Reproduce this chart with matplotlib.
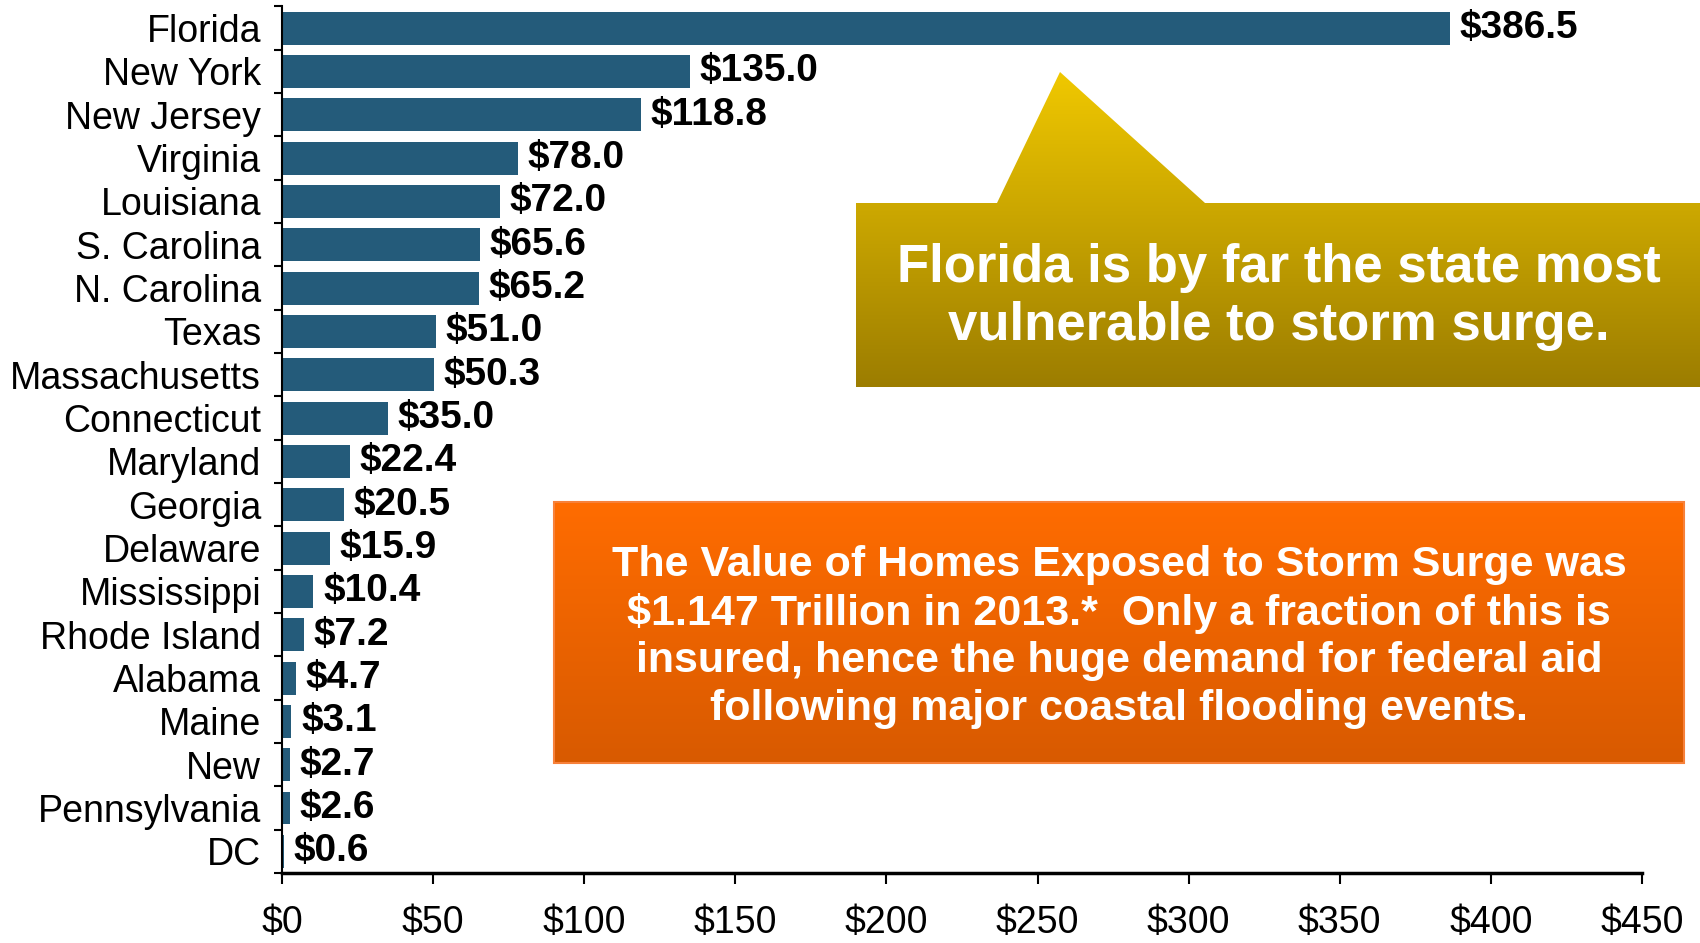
import numpy as np
import matplotlib
matplotlib.use("Agg")
import matplotlib.pyplot as plt
from matplotlib.colors import LinearSegmentedColormap
from matplotlib.patches import Polygon

plt.rcParams["font.family"] = ["Liberation Sans", "DejaVu Sans"]

# value of homes exposed to storm surge, $ billions
states = ["Florida", "New York", "New Jersey", "Virginia", "Louisiana",
          "S. Carolina", "N. Carolina", "Texas", "Massachusetts", "Connecticut",
          "Maryland", "Georgia", "Delaware", "Mississippi", "Rhode Island",
          "Alabama", "Maine", "New", "Pennsylvania", "DC"]
values = [386.5, 135.0, 118.8, 78.0, 72.0, 65.6, 65.2, 51.0, 50.3, 35.0,
          22.4, 20.5, 15.9, 10.4, 7.2, 4.7, 3.1, 2.7, 2.6, 0.6]
xticks = [0, 50, 100, 150, 200, 250, 300, 350, 400, 450]

BAR = "#245B7A"
W, H = 1700, 943

fig = plt.figure(figsize=(W / 100, H / 100), dpi=100)
ax = fig.add_axes([282 / W, 70 / H, 1360 / W, 866.5 / H])

y = np.arange(len(states))
ax.barh(y, values, height=0.76, color=BAR, zorder=2)
ax.set_xlim(0, 450)
ax.set_ylim(len(states) - 0.5, -0.5)

ax.set_yticks(y, states)
ax.set_yticks(np.arange(len(states) + 1) - 0.5, minor=True)
ax.tick_params(axis="y", which="major", length=0, pad=15, labelsize=27)
ax.tick_params(axis="y", which="minor", length=6, width=1.5, direction="out")
ax.set_xticks(xticks, [f"${t}" for t in xticks])
ax.tick_params(axis="x", length=8, width=1.5, pad=15, labelsize=27)
ax.spines[["top", "right"]].set_visible(False)
ax.spines["left"].set_linewidth(1.5)
ax.spines["bottom"].set_linewidth(2.5)

for yi, v in zip(y, values):
    ax.annotate(f"${v:.1f}", (v, yi), xytext=(7, 0), textcoords="offset points",
                ha="left", va="center", fontsize=28, fontweight="bold")

# callout boxes drawn in pixel coordinates on top of the chart
ov = fig.add_axes([0, 0, 1, 1], zorder=5)
ov.axis("off")

def gradient_shape(verts, top, bottom, edge=None):
    poly = Polygon(verts, closed=True, facecolor="none",
                   edgecolor=edge if edge else "none", lw=1.5, zorder=3)
    ov.add_patch(poly)
    xs = [p[0] for p in verts]; ys = [p[1] for p in verts]
    cmap = LinearSegmentedColormap.from_list("g", [top, bottom])
    grad = np.linspace(0, 1, 256).reshape(-1, 1)
    im = ov.imshow(grad, cmap=cmap, aspect="auto", zorder=2,
                   extent=(min(xs), max(xs), max(ys), min(ys)))
    im.set_clip_path(poly)

gold = [(856, 387), (856, 203), (997, 203), (1060, 72), (1205, 203),
        (1700, 203), (1700, 387)]
gradient_shape(gold, "#F0C800", "#9C7D00")
ov.text(1279, 297, "Florida is by far the state most\nvulnerable to storm surge.",
        ha="center", va="center", color="white", fontsize=38,
        fontweight="bold", linespacing=1.18, zorder=4)

orange = [(554, 763), (554, 502), (1684, 502), (1684, 763)]
gradient_shape(orange, "#FF6C00", "#D85A00", edge="#F7813A")
ov.text(1119, 637,
        "The Value of Homes Exposed to Storm Surge was\n"
        "\\$1.147 Trillion in 2013.*  Only a fraction of this is\n"
        "insured, hence the huge demand for federal aid\n"
        "following major coastal flooding events.",
        ha="center", va="center", color="white", fontsize=31,
        fontweight="bold", linespacing=1.24, zorder=4)

ov.set_xlim(0, W)
ov.set_ylim(H, 0)

fig.savefig("out.png", dpi=100)
